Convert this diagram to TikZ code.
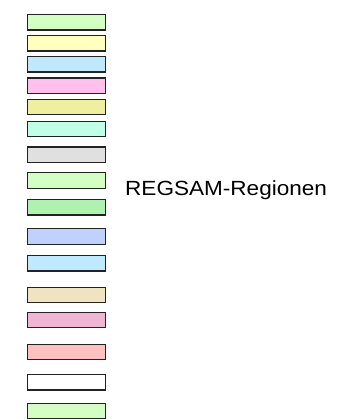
\documentclass[tikz,border=0pt]{standalone}
\usepackage{fontspec}
\setmainfont{Liberation Sans}
\usepackage{tikz}
\usetikzlibrary{positioning}
\definecolor{regA}{RGB}{212,255,196}
\definecolor{regB}{RGB}{255,255,192}
\definecolor{regC}{RGB}{192,232,255}
\definecolor{regD}{RGB}{255,192,236}
\definecolor{regE}{RGB}{238,240,160}
\definecolor{regF}{RGB}{192,255,232}
\definecolor{regG}{RGB}{224,224,224}
\definecolor{regH}{RGB}{176,240,176}
\definecolor{regI}{RGB}{192,208,255}
\definecolor{regJ}{RGB}{240,228,192}
\definecolor{regK}{RGB}{240,180,212}
\definecolor{regL}{RGB}{255,192,192}
\definecolor{boxline}{RGB}{35,35,35}

\begin{document}
\begin{tikzpicture}[x=1pt, y=-1pt,
  regbox/.style={draw=boxline, line width=1.2pt, inner sep=0pt,
                 minimum width=78pt, minimum height=15.5pt}]
  \useasboundingbox (0,0) rectangle (356,419);

  % Region swatches
  \foreach \i/\y/\c in {1/22.3/regA, 2/43.3/regB, 3/64.3/regC, 4/85.7/regD,
                        5/107/regE, 6/129/regF, 7/154.7/regG, 8/180.5/regA,
                        9/207.3/regH, 10/236.5/regI, 11/263.3/regC, 12/295/regJ,
                        13/320/regK, 14/352/regL, 15/382.3/white, 16/411.3/regA} {
    \node[regbox, fill=\c] (reg\i) at (66.5,\y) {};
  }

  % Legend text
  \node[anchor=west, inner sep=0pt, font=\fontsize{20.5}{24}\selectfont]
    (legend) at (125,190.5) {\scalebox{1.1}[1]{REGSAM-Regionen}};
\end{tikzpicture}
\end{document}
